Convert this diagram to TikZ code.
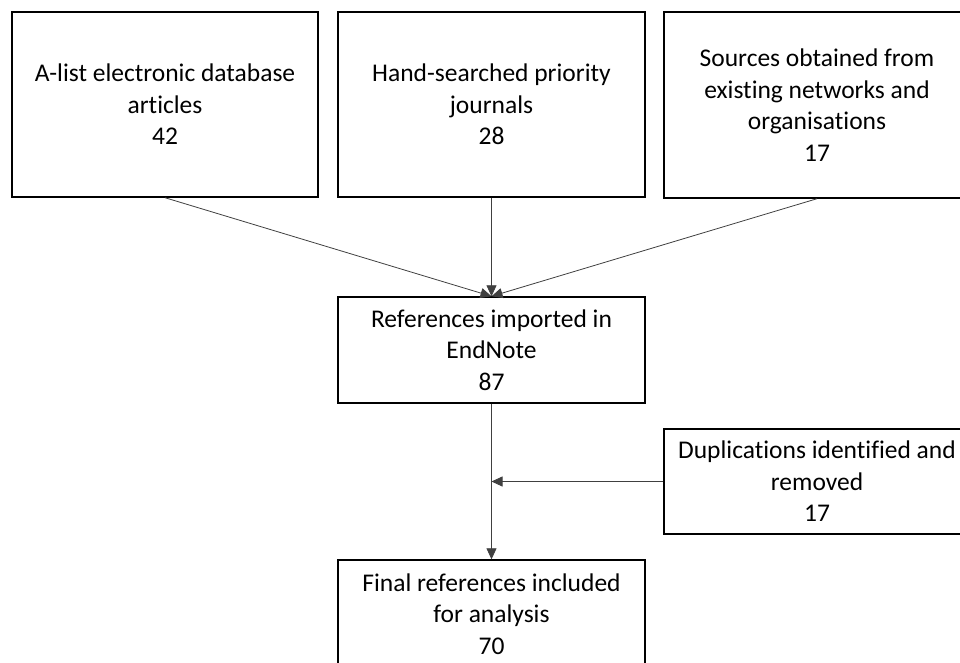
\documentclass[tikz,border=0pt]{standalone}
\usepackage{fontspec}
\setmainfont[Ligatures={NoCommon,NoContextual}]{Carlito}
\usetikzlibrary{arrows.meta}
\begin{document}
\begin{tikzpicture}[x=1pt,y=-1pt,
  box/.style={draw=black,line width=1.4pt,fill=white,align=center,inner sep=0pt,
    font=\fontsize{25.5}{31.5}\selectfont,text=black},
  conn/.style={draw=black!75,line width=0.8pt},
  arr/.style={conn,-{Triangle[length=11pt,width=10pt]}}]
\useasboundingbox (0,0) rectangle (960,662);
\clip (0,0) rectangle (960,662);
\node[box,minimum width=306pt,minimum height=185pt] (a) at (165,104.5) {A-list electronic database\\articles\\42};
\node[box,minimum width=307pt,minimum height=185pt] (b) at (491.5,104.5) {Hand-searched priority\\journals\\28};
\node[box,minimum width=306pt,minimum height=186pt] (c) at (817,105) {Sources obtained from\\existing networks and\\organisations\\17};
\node[box,minimum width=307pt,minimum height=106pt] (m) at (491.5,350) {References imported in\\EndNote\\87};
\node[box,minimum width=306pt,minimum height=105pt] (d) at (817,481.5) {Duplications identified and\\removed\\17};
\node[box,minimum width=307pt,minimum height=108pt] (f) at (491.5,614) {Final references included\\for analysis\\70};
\draw[arr] (a.south) -- (m.north);
\draw[arr] (b.south) -- (m.north);
\draw[arr] (c.south) -- (m.north);
\draw[arr] (m.south) -- (f.north);
\coordinate (j) at (m.south |- d.west);
\draw[arr] (d.west) -- (j);
\end{tikzpicture}
\end{document}
